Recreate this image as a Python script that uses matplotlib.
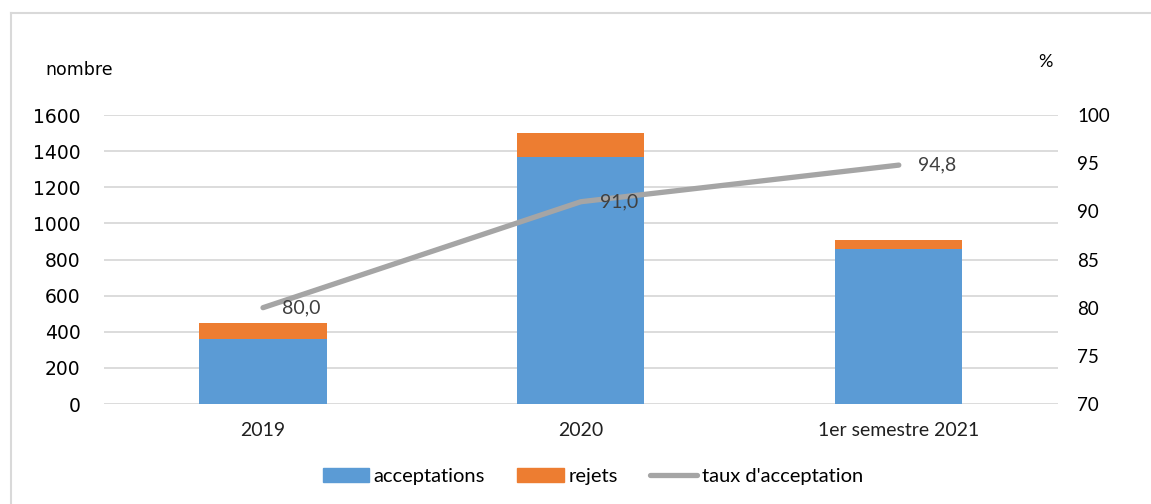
import matplotlib.pyplot as plt
from matplotlib.lines import Line2D
import numpy as np

# données
periodes = ["2019", "2020", "1er semestre 2021"]
acceptations = [360, 1365, 860]
rejets = [90, 135, 47]
taux = [80.0, 91.0, 94.8]
taux_labels = ["80,0", "91,0", "94,8"]

bleu = '#5B9BD5'
orange = '#ED7D31'
gris = '#A5A5A5'
grille = '#D9D9D9'

fig = plt.figure(figsize=(11.51, 5.04), dpi=100)
ax = fig.add_axes([0.0904, 0.1984, 0.8286, 0.5734])
ax2 = ax.twinx()

x = np.arange(len(periodes))
ax.bar(x, acceptations, width=0.4, color=bleu, zorder=2)
ax.bar(x, rejets, width=0.4, bottom=acceptations, color=orange, zorder=2)

ax.set_xlim(-0.5, 2.5)
ax.set_ylim(0, 1600)
ax.set_yticks(range(0, 1601, 200))
ax.grid(axis='y', color=grille, linewidth=1.3, zorder=0)
ax.set_axisbelow(True)
ax.set_xticks(x)
ax.set_xticklabels(periodes, fontsize=14, family='Lato', color='#202020')
for lab in ax.get_yticklabels():
    lab.set_fontsize(13.5)
    lab.set_family('DejaVu Sans')
ax.tick_params(axis='both', length=0)
ax.tick_params(axis='y', pad=17)
ax.tick_params(axis='x', pad=13)

# taux d'acceptation sur l'axe de droite
ax2.plot(x, taux, color=gris, linewidth=3.8, solid_capstyle='round', zorder=3)
ax2.set_ylim(70, 100)
ax2.set_yticks(range(70, 101, 5))
for lab in ax2.get_yticklabels():
    lab.set_fontsize(13.5)
    lab.set_family('Lato')
ax2.tick_params(axis='y', length=0, pad=14)
for xi, yi, s in zip(x, taux, taux_labels):
    ax2.annotate(s, (xi, yi), xytext=(14, 0), textcoords='offset points',
                 ha='left', va='center', fontsize=14, color='#404040', family='Lato')

for a in (ax, ax2):
    for sp in a.spines.values():
        sp.set_visible(False)

fig.text(0.039, 0.852, "nombre", fontsize=12.5, family='DejaVu Sans')
fig.text(0.902, 0.868, "%", fontsize=13, family='Lato')

# légende
handles = [plt.Rectangle((0, 0), 1, 1, color=bleu),
           plt.Rectangle((0, 0), 1, 1, color=orange),
           Line2D([0], [0], color=gris, linewidth=3.8, solid_capstyle='round')]
fig.legend(handles, ["acceptations", "rejets", "taux d'acceptation"],
           loc='center', bbox_to_anchor=(0.515, 0.055), ncol=3, frameon=False,
           prop={'family': 'Lato', 'size': 14.5}, handlelength=2.3, handleheight=0.68,
           handletextpad=0.25, columnspacing=1.6)

# cadre
fig.add_artist(Line2D([0.0096, 0.0096], [0, 0.974], color=grille, linewidth=1.5))
fig.add_artist(Line2D([0.0096, 1], [0.974, 0.974], color=grille, linewidth=1.5))

fig.savefig('out.png', dpi=100)
